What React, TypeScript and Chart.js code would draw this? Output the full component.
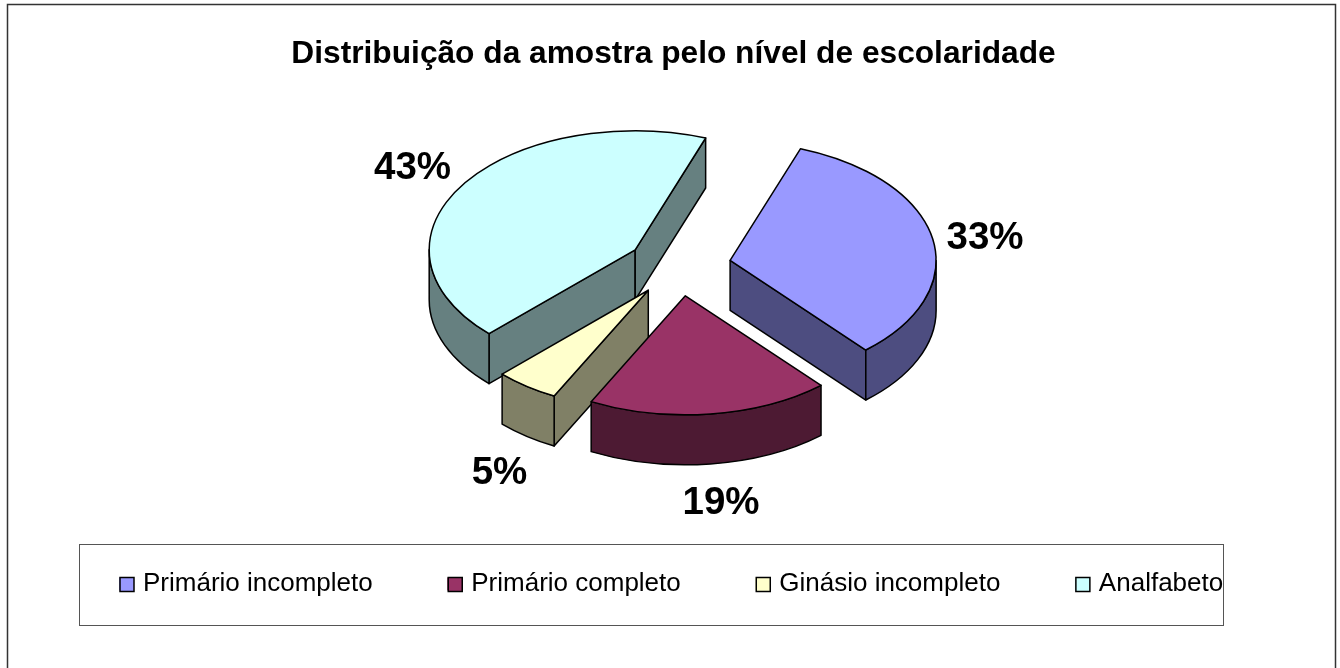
import React, { useEffect, useRef } from "react";
import { Chart, registerables } from "chart.js";

Chart.register(...registerables);

const categories = ["Primário incompleto", "Primário completo", "Ginásio incompleto", "Analfabeto"];
const percentages = [33, 19, 5, 43];
const faceColors = ["#9999FF", "#993366", "#FFFFCC", "#CCFFFF"];
const wallColors = ["#4D4D80", "#4D1A33", "#808066", "#668080"];
const titleText = "Distribuição da amostra pelo nível de escolaridade";

// Pie look
const PIE_CENTER = { x: 679, y: 266 };
const RADIUS = 206;
const TILT = 119 / 206;
const DEPTH = 50;
const EXPLODE = 52;
const ROTATION = 20;
const DRAW_ORDER = [3, 0, 2, 1];
const LABEL_POS = [
  { x: 985, y: 238.5 },
  { x: 721, y: 503 },
  { x: 499.5, y: 473.5 },
  { x: 412.5, y: 168 },
];
const LINE = "#000000";
const SWATCH_CENTER_Y = 584.5;

const pie3d = {
  id: "pie3d",
  beforeDraw(chart: any) {
    const ctx = chart.ctx;
    ctx.save();
    ctx.fillStyle = "#FFFFFF";
    ctx.fillRect(0, 0, chart.width, chart.height);
    ctx.strokeStyle = "#333333";
    ctx.lineWidth = 1.5;
    ctx.strokeRect(7.5, 4.5, 1328, 680);
    ctx.lineWidth = 1;
    ctx.strokeStyle = "#555555";
    ctx.strokeRect(79.5, 544.5, 1144, 81);
    ctx.restore();
  },
  afterLayout(chart: any) {
    // place the pie box, title and legend where the reference has them
    chart.chartArea = {
      left: PIE_CENTER.x - RADIUS,
      right: PIE_CENTER.x + RADIUS,
      top: PIE_CENTER.y - RADIUS,
      bottom: PIE_CENTER.y + RADIUS,
      width: RADIUS * 2,
      height: RADIUS * 2,
    };
    const t = chart.titleBlock;
    t.left = 7;
    t.right = 1340;
    const l = chart.legend;
    l.left = 44.5;
    l.right = 1340;
    l.top = 496.5;
    l.bottom = 660;
    l.adjustHitBoxes();
  },
  beforeDatasetsDraw(chart: any) {
    const ctx = chart.ctx;
    const arcs = chart.getDatasetMeta(0).data;
    ctx.save();
    ctx.lineWidth = 1.5;
    ctx.lineJoin = "round";
    ctx.strokeStyle = LINE;
    for (const i of DRAW_ORDER) {
      const arc = arcs[i];
      const { startAngle: s, endAngle: e, outerRadius: r } = arc;
      const mid = (s + e) / 2;
      const ry = r * TILT;
      const ax = arc.x + Math.cos(mid) * EXPLODE;
      const ay = arc.y + Math.sin(mid) * EXPLODE * TILT;
      const px = (a: number) => ax + Math.cos(a) * r;
      const py = (a: number) => ay + Math.sin(a) * ry;

      const cutFace = (a: number) => {
        ctx.beginPath();
        ctx.moveTo(ax, ay);
        ctx.lineTo(px(a), py(a));
        ctx.lineTo(px(a), py(a) + DEPTH);
        ctx.lineTo(ax, ay + DEPTH);
        ctx.closePath();
        ctx.fillStyle = wallColors[i];
        ctx.fill();
        ctx.stroke();
      };
      // cut faces that look toward the viewer
      if (Math.cos(s) < 0) cutFace(s);
      if (Math.cos(e) > 0) cutFace(e);

      // outer wall: the part of the rim on the near half of the ellipse
      for (let k = -1; k <= 1; k++) {
        const a0 = Math.max(s, k * 2 * Math.PI);
        const a1 = Math.min(e, k * 2 * Math.PI + Math.PI);
        if (a1 <= a0) continue;
        ctx.beginPath();
        ctx.ellipse(ax, ay, r, ry, 0, a0, a1);
        ctx.lineTo(px(a1), py(a1) + DEPTH);
        ctx.ellipse(ax, ay + DEPTH, r, ry, 0, a1, a0, true);
        ctx.closePath();
        ctx.fillStyle = wallColors[i];
        ctx.fill();
        ctx.stroke();
      }

      // top face: the library's own arc, seen through the tilt
      ctx.save();
      ctx.translate(ax, ay);
      ctx.scale(1, TILT);
      ctx.translate(-arc.x, -arc.y);
      arc.draw(ctx);
      ctx.restore();
      ctx.beginPath();
      ctx.moveTo(ax, ay);
      ctx.ellipse(ax, ay, r, ry, 0, s, e);
      ctx.closePath();
      ctx.stroke();
    }
    ctx.restore();
    return false;
  },
  afterDraw(chart: any) {
    const ctx = chart.ctx;
    ctx.save();
    ctx.fillStyle = "#000000";
    ctx.font = 'bold 38.5px "Liberation Sans"';
    ctx.textAlign = "center";
    ctx.textBaseline = "middle";
    percentages.forEach((v, i) => {
      ctx.fillText(`${v}%`, LABEL_POS[i].x, LABEL_POS[i].y);
    });
    // legend swatches are a little wider than the text gap the library leaves
    const l = chart.legend;
    l.legendItems.forEach((item: any, i: number) => {
      const hb = l.legendHitBoxes[i];
      ctx.fillStyle = item.fillStyle;
      ctx.strokeStyle = "#000000";
      ctx.lineWidth = 1.5;
      ctx.beginPath();
      ctx.rect(hb.left + 1, SWATCH_CENTER_Y - 7, 14, 14);
      ctx.fill();
      ctx.stroke();
    });
    ctx.restore();
  },
};

export default function App() {
  const ref = useRef<HTMLCanvasElement>(null);
  useEffect(() => {
    const chart = new Chart(ref.current as HTMLCanvasElement, {
      type: "pie",
      data: {
        labels: categories,
        datasets: [
          {
            data: percentages,
            backgroundColor: faceColors,
            borderWidth: 0,
          },
        ],
      },
      options: {
        animation: false,
        responsive: false,
        rotation: ROTATION,
        radius: RADIUS,
        events: [],
        plugins: {
          tooltip: { enabled: false },
          title: {
            display: true,
            text: titleText,
            color: "#000000",
            font: { family: '"Liberation Sans"', size: 31.7, weight: "bold" },
            padding: { top: 35, bottom: 0 },
          },
          legend: {
            display: true,
            position: "bottom",
            align: "start",
            labels: {
              boxWidth: 11,
              boxHeight: 13,
              padding: 74.5,
              color: "#000000",
              font: { family: '"Liberation Sans"', size: 26 },
              generateLabels(c: any) {
                const items = (Chart as any).overrides.doughnut.plugins.legend.labels.generateLabels(c);
                return items.map((it: any) => ({ ...it, strokeStyle: "rgba(0,0,0,0)", lineWidth: 0 }));
              },
            },
          },
        },
      } as any,
      plugins: [pie3d as any],
    });
    return () => chart.destroy();
  }, []);
  return (
    <canvas
      ref={ref}
      width={1340}
      height={668}
      style={{ position: "absolute", left: 0, top: 0, width: 1340, height: 668 }}
    />
  );
}
